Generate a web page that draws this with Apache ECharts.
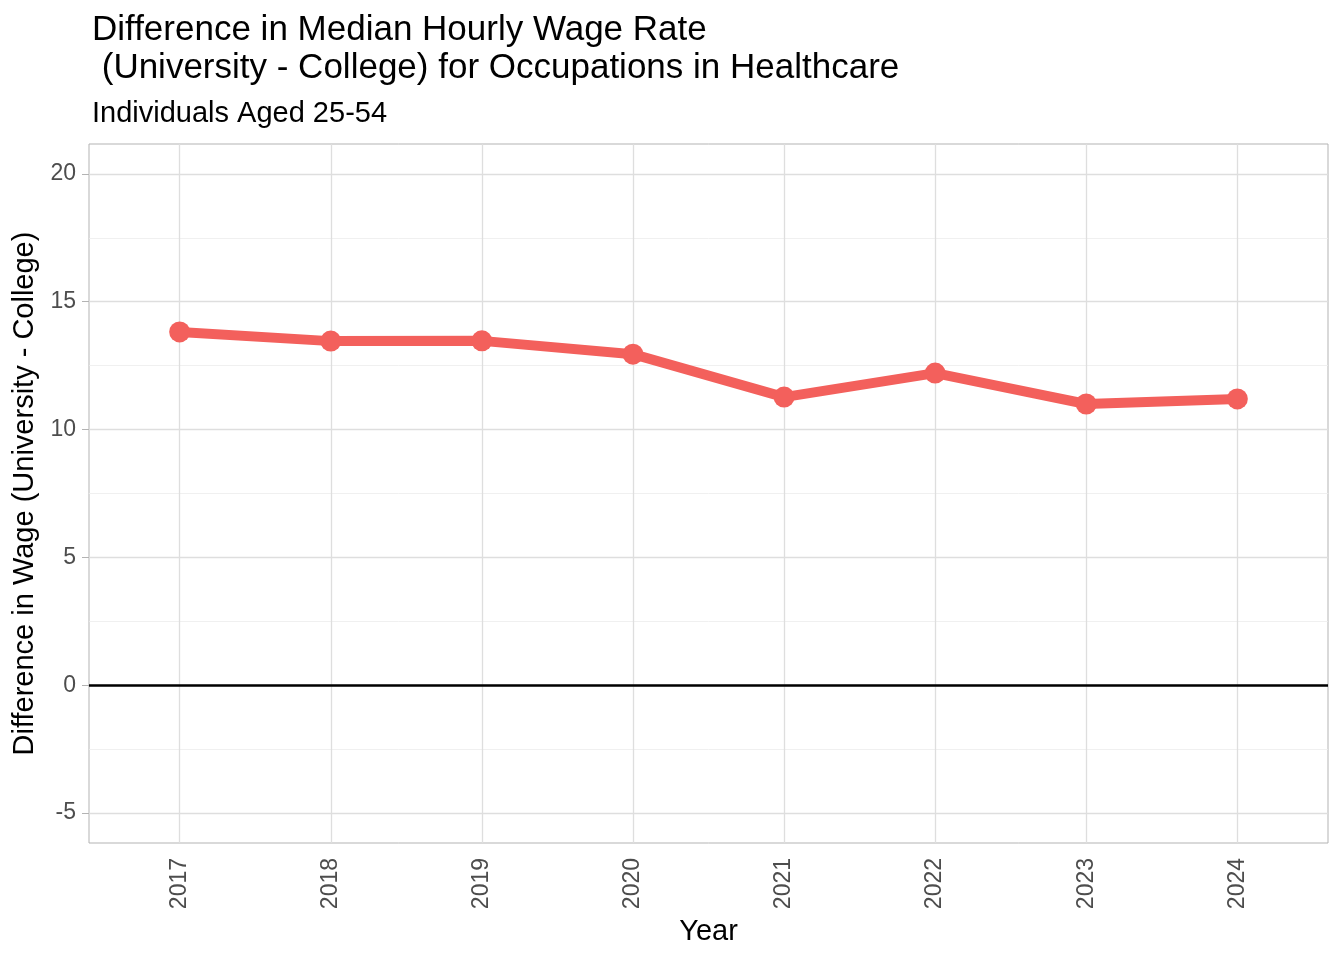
<!DOCTYPE html>
<html><head><meta charset="utf-8">
<script src="https://cdn.jsdelivr.net/npm/echarts@6/dist/echarts.min.js"></script>
<style>html,body{margin:0;padding:0;background:#fff}#c{width:1344px;height:960px}</style>
</head><body><div id="c"></div>
<script>
const years = [2017, 2018, 2019, 2020, 2021, 2022, 2023, 2024];
const wageDiff = [13.82, 13.46, 13.47, 12.95, 11.27, 12.21, 11.0, 11.2];
const yTicks = [-5, 0, 5, 10, 15, 20];
const yMinor = [-2.5, 2.5, 7.5, 12.5, 17.5];

const font = '"Liberation Sans", Arial, Helvetica, sans-serif';
const chart = echarts.init(document.getElementById('c'));

const gridLines = [];
yMinor.forEach(v => gridLines.push({yAxis: v, lineStyle: {color: '#ececec', width: 0.8, type: 'solid'}}));
yTicks.forEach(v => gridLines.push({yAxis: v, lineStyle: {color: '#dedede', width: 1.3, type: 'solid'}}));
years.forEach(v => gridLines.push({xAxis: v, lineStyle: {color: '#dedede', width: 1.3, type: 'solid'}}));

chart.setOption({
  animation: false,
  backgroundColor: '#fff',
  textStyle: {fontFamily: font},
  title: [
    {text: 'Difference in Median Hourly Wage Rate\n (University - College) for Occupations in Healthcare',
     left: 87, top: 6, textStyle: {fontFamily: font, fontSize: 35, fontWeight: 'normal', color: '#000', lineHeight: 38}},
    {text: 'Individuals Aged 25-54', left: 87, top: 94,
     textStyle: {fontFamily: font, fontSize: 29, fontWeight: 'normal', color: '#000'}}
  ],
  grid: {left: 89, right: 16, top: 144, bottom: 117, show: true, borderColor: '#b3b3b3', borderWidth: 1, containLabel: false},
  xAxis: {
    type: 'value', min: 2016.4, max: 2024.6,
    name: 'Year', nameLocation: 'middle', nameGap: 69,
    nameTextStyle: {fontFamily: font, fontSize: 29, color: '#000'},
    axisLine: {show: false},
    axisTick: {show: true, customValues: years, length: 7, lineStyle: {color: '#b3b3b3', width: 1}},
    axisLabel: {customValues: years, rotate: 90, fontSize: 23, color: '#4d4d4d', fontFamily: font, margin: 15,
      formatter: v => String(Math.round(v))},
    splitLine: {show: false}
  },
  yAxis: {
    type: 'value', min: -6.17, max: 21.17,
    name: 'Difference in Wage (University - College)', nameLocation: 'middle', nameGap: 47,
    nameTextStyle: {fontFamily: font, fontSize: 29, color: '#000'},
    axisLine: {show: false},
    axisTick: {show: true, customValues: yTicks, length: 7, lineStyle: {color: '#b3b3b3', width: 1}},
    axisLabel: {customValues: yTicks, fontSize: 23, color: '#4d4d4d', fontFamily: font, margin: 13,
      formatter: v => String(Math.round(v))},
    splitLine: {show: false}
  },
  series: [
    {
      type: 'line', data: [], z: 1, silent: true,
      markLine: {silent: true, symbol: 'none', label: {show: false}, data: gridLines, animation: false}
    },
    {
      type: 'line', data: [], z: 2, silent: true,
      markLine: {silent: true, symbol: 'none', label: {show: false},
        data: [{yAxis: 0, lineStyle: {color: '#000', width: 2.5, type: 'solid'}}], animation: false}
    },
    {
      type: 'line', z: 5,
      data: years.map((y, i) => [y, wageDiff[i]]),
      lineStyle: {color: '#F3605C', width: 10},
      itemStyle: {color: '#F3605C'},
      symbol: 'circle', symbolSize: 21, showSymbol: true
    }
  ]
});
</script></body></html>
